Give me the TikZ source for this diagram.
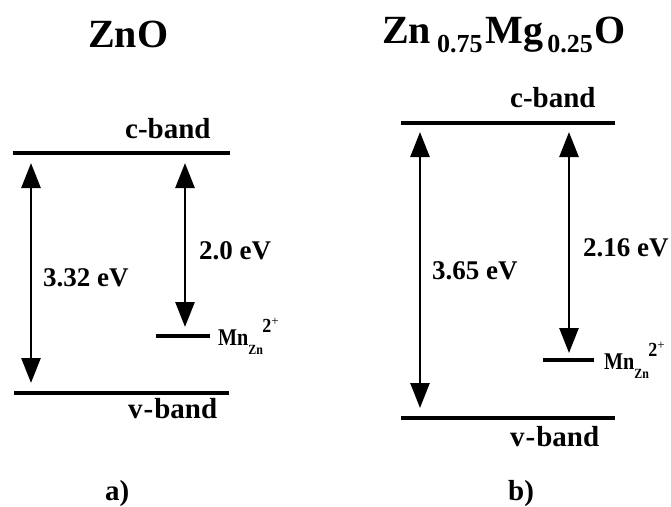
\documentclass[tikz,border=0pt]{standalone}
\usepackage{fontspec}
\setmainfont{Liberation Serif}
\usetikzlibrary{arrows.meta}
\newcommand\MnLabel{\bfseries\scalebox{0.84}[1]{\fontsize{24}{24}\selectfont\bfseries Mn}\rlap{\raisebox{-9pt}{\scalebox{0.85}[1]{\fontsize{14}{14}\selectfont\bfseries Zn}}}\hspace{14pt}\raisebox{13pt}{\scalebox{0.9}[1]{\fontsize{20}{20}\selectfont\bfseries 2}}\raisebox{20pt}{\fontsize{13}{13}\selectfont\mdseries +}}
\newcommand\Sub[1]{\raisebox{-9pt}{\fontsize{26}{26}\selectfont #1}}
\begin{document}
\begin{tikzpicture}[x=1pt,y=-1pt,
  level/.style={line width=4pt},
  gaparrow/.style={line width=2.6pt,{Triangle[width=19pt,length=25pt]}-{Triangle[width=19pt,length=25pt]}},
  title/.style={font=\fontsize{40}{44}\selectfont\bfseries,inner sep=0pt,anchor=base west},
  lbl/.style={font=\fontsize{29}{32}\selectfont\bfseries,inner sep=0pt,anchor=base west},
  elbl/.style={font=\fontsize{27}{30}\selectfont\bfseries,inner sep=0pt,anchor=base west},
  mnlbl/.style={font=\bfseries,inner sep=0pt,anchor=base west}]
\useasboundingbox (0,0) rectangle (671,506);
% ---------- panel a ----------
\node[title] (tA) at (88,47) {ZnO};
\coordinate (cA1) at (13,153);  \coordinate (cA2) at (230,153);
\coordinate (vA1) at (14,393);  \coordinate (vA2) at (229,393);
\coordinate (mA1) at (156,336); \coordinate (mA2) at (210,336);
\draw[level] (cA1) -- (cA2);
\draw[level] (vA1) -- (vA2);
\draw[level] (mA1) -- (mA2);
\node[lbl] (cbA) at (125,138) {c-band};
\node[lbl] (vbA) at (128,418) {v\kern1pt-\kern1pt band};
\coordinate (gA1) at (31,163); \coordinate (gA2) at (31,383);
\coordinate (hA1) at (185,163); \coordinate (hA2) at (185,327);
\draw[gaparrow] (gA1) -- (gA2);
\draw[gaparrow] (hA1) -- (hA2);
\node[elbl] (eA1) at (43,286) {3.32 eV};
\node[elbl] (eA2) at (199,259) {2.0 eV};
\node[mnlbl] (mnA) at (218,345) {\MnLabel};
\node[lbl] (capA) at (105,500) {a)};
% ---------- panel b ----------
\node[title] (tB) at (382,43) {Zn\hspace{6pt}\Sub{0.75}\hspace{3pt}Mg\hspace{4pt}\Sub{0.25}\hspace{2pt}O};
\coordinate (cB1) at (401,123); \coordinate (cB2) at (615,123);
\coordinate (vB1) at (401,418); \coordinate (vB2) at (615,418);
\coordinate (mB1) at (543,360); \coordinate (mB2) at (594,360);
\draw[level] (cB1) -- (cB2);
\draw[level] (vB1) -- (vB2);
\draw[level] (mB1) -- (mB2);
\node[lbl] (cbB) at (510,107) {c-band};
\node[lbl] (vbB) at (510,446) {v\kern1pt-\kern1pt band};
\coordinate (gB1) at (420,132); \coordinate (gB2) at (420,408);
\coordinate (hB1) at (569,132); \coordinate (hB2) at (569,353);
\draw[gaparrow] (gB1) -- (gB2);
\draw[gaparrow] (hB1) -- (hB2);
\node[elbl] (eB1) at (432,279) {3.65 eV};
\node[elbl] (eB2) at (583,256) {2.16 eV};
\node[mnlbl] (mnB) at (604,369) {\MnLabel};
\node[lbl] (capB) at (508,500) {b)};
\end{tikzpicture}
\end{document}
